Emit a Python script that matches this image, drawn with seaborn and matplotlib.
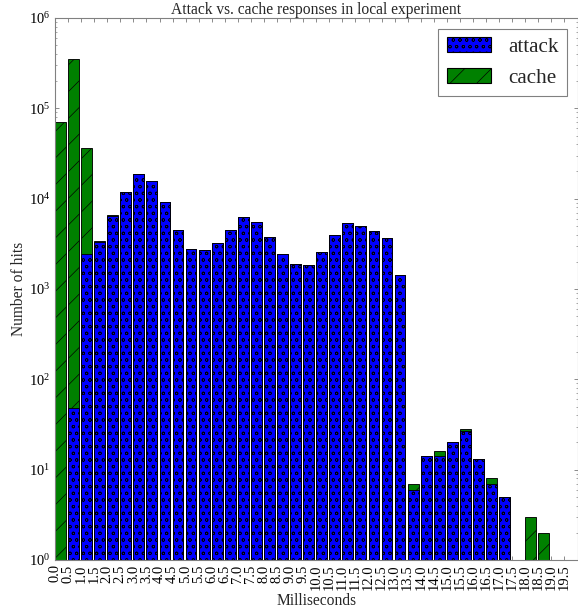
import matplotlib
matplotlib.use("Agg")
import matplotlib.pyplot as plt
from matplotlib.patches import Patch
from matplotlib.ticker import FixedLocator, LogLocator, NullLocator, NullFormatter
import pandas as pd
import seaborn as sns

# Histogram bins (start of each 0.5 ms bin)
ms = [0.0, 0.5, 1.0, 1.5, 2.0, 2.5, 3.0, 3.5, 4.0, 4.5,
      5.0, 5.5, 6.0, 6.5, 7.0, 7.5, 8.0, 8.5, 9.0, 9.5,
      10.0, 10.5, 11.0, 11.5, 12.0, 12.5, 13.0, 13.5, 14.0, 14.5,
      15.0, 15.5, 16.0, 16.5, 17.0, 17.5, 18.0, 18.5, 19.0, 19.5]

# Hits per bin for each response type
attack = [0, 48, 2420, 3320, 6450, 11900, 18800, 15700, 9200, 4470,
          2770, 2680, 3230, 4470, 6310, 5520, 3730, 2460, 1890, 1830,
          2550, 4000, 5340, 5020, 4420, 3700, 1430, 6, 14, 14,
          20, 27, 13, 7, 5, 0, 0, 0, 0, 0]
cache = [70600, 351000, 34000, 80, 150, 0, 0, 0, 0, 0,
         0, 0, 0, 0, 0, 0, 0, 0, 0, 0,
         0, 0, 0, 0, 0, 0, 0, 1, 0, 2,
         0, 1, 0, 1, 0, 0, 3, 2, 0, 0]

tick_labels = [f"{v:.1f}" for v in ms]

sns.set_style("ticks")
plt.rcParams.update({
    "font.family": ["Liberation Serif", "DejaVu Serif"],
    "mathtext.fontset": "custom",
    "mathtext.rm": "Liberation Serif",
    "mathtext.it": "Liberation Serif:italic",
    "mathtext.bf": "Liberation Serif:bold",
    "axes.edgecolor": "#808080",
    "axes.linewidth": 1.0,
    "xtick.color": "#808080",
    "ytick.color": "#808080",
    "xtick.labelcolor": "black",
    "ytick.labelcolor": "black",
    "xtick.direction": "in",
    "ytick.direction": "in",
    "xtick.top": True,
    "ytick.right": True,
    "xtick.major.size": 4,
    "ytick.major.size": 4,
    "ytick.minor.size": 2,
    "hatch.linewidth": 0.6,
})

df = pd.DataFrame({"ms": ms, "attack": attack, "cache": cache})
df["total"] = df["attack"] + df["cache"]
bin_w = 0.5
width_frac = 0.83
df["center"] = df["ms"] + bin_w * width_frac / 2

fig = plt.figure(figsize=(578 / 80, 611 / 80), dpi=80)
ax = fig.add_axes([55 / 578, 1 - 560 / 611, (577.5 - 55) / 578, (560 - 18) / 611])
ax.set_yscale("log")

# Full stack height drawn in the cache style, attack drawn over its lower part
n0 = len(ax.patches)
sns.barplot(data=df[df["total"] > 0], x="center", y="total", native_scale=True,
            width=width_frac, color="#008000", saturation=1, edgecolor="black",
            linewidth=0.8, errorbar=None, ax=ax)
for p in ax.patches[n0:]:
    p.set_hatch("/")

n1 = len(ax.patches)
sns.barplot(data=df[df["attack"] > 0], x="center", y="attack", native_scale=True,
            width=width_frac, color="#0000FF", saturation=1, edgecolor="black",
            linewidth=0.8, errorbar=None, ax=ax)
for p in ax.patches[n1:]:
    p.set_hatch("oo")

ax.set_xlim(0, 20)
ax.set_ylim(1, 1e6)
ax.xaxis.set_major_locator(FixedLocator(ms))
ax.xaxis.set_minor_locator(NullLocator())
ax.set_xticklabels(tick_labels, rotation=90, fontsize=13)
ax.yaxis.set_major_locator(LogLocator(base=10))
ax.yaxis.set_minor_locator(LogLocator(base=10, subs=range(2, 10)))
ax.yaxis.set_minor_formatter(NullFormatter())
ax.tick_params(axis="y", which="major", labelsize=13, pad=4)
ax.tick_params(axis="x", which="major", pad=4)

ax.set_title("Attack vs. cache responses in local experiment", fontsize=14, pad=2.5)
ax.set_xlabel("Milliseconds", fontsize=14, labelpad=2)
ax.set_ylabel("Number of hits", fontsize=14, labelpad=2)

handles = [
    Patch(facecolor="#0000FF", edgecolor="black", hatch="oo", label="attack"),
    Patch(facecolor="#008000", edgecolor="black", hatch="/", label="cache"),
]
leg = ax.legend(handles=handles, loc="upper right", fontsize=19, fancybox=False,
                framealpha=1, edgecolor="#808080", borderaxespad=0.5,
                handlelength=2.1, handleheight=0.75, handletextpad=0.8,
                borderpad=0.4)
leg.get_frame().set_linewidth(1.0)

fig.savefig("out.png", dpi=80)
